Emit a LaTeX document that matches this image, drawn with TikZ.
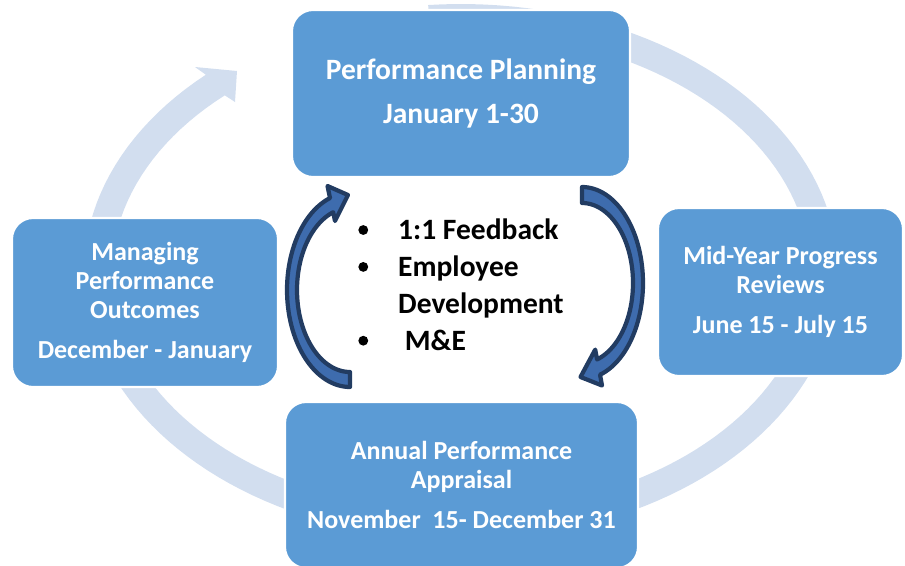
\documentclass[tikz,border=0pt]{standalone}
\usepackage{fontspec}
\setmainfont{Carlito}
\definecolor{boxblue}{RGB}{91,155,213}
\definecolor{ringblue}{RGB}{210,222,239}
\definecolor{arrownavy}{RGB}{34,60,98}
\definecolor{arrowfill}{RGB}{62,108,174}
% small filled dot used as list bullet
\newcommand\listdot{\raisebox{2.6pt}{\tikz\fill[black] (0,0) circle[radius=2.8pt];}}
\begin{document}
\begin{tikzpicture}[x=0.02cm, y=-0.02cm,
  stage/.style={rectangle, rounded corners=12pt, fill=boxblue, draw=white,
    line width=1.2pt, text=white, align=center, inner sep=0pt},
  bigtext/.style={font=\fontsize{16.8}{20}\selectfont\bfseries},
  smalltext/.style={font=\fontsize{14.8}{16.4}\selectfont\bfseries},
  cyclearrow/.style={fill=arrowfill, draw=arrownavy, line width=2.4pt, line join=round}]
\useasboundingbox (0,0) rectangle (905,565);
\clip (0,0) rectangle (905,565);

% large pale ring arrow running clockwise behind the stages
\fill[ringblue]
  plot[domain=-95:227.4, samples=150] ({461+377*cos(\x)},{272+268*sin(\x)})
  -- (195,67) -- (237,71) -- (235,102)
  -- plot[domain=227.4:-95, samples=150] ({461+349*cos(\x)},{272+240*sin(\x)})
  -- cycle;

% the four stages
\node[stage, bigtext, minimum width=338*0.02cm, minimum height=167*0.02cm]
  (plan) at (461,93.5) {Performance Planning\\[5.5pt]January 1-30};
\node[stage, smalltext, minimum width=245*0.02cm, minimum height=168*0.02cm]
  (midyear) at (780.5,292) {Mid-Year Progress\\Reviews\\[6.8pt]June 15 - July 15};
\node[stage, smalltext, minimum width=353*0.02cm, minimum height=166*0.02cm]
  (appraisal) at (461.5,485) {Annual Performance\\Appraisal\\[6.8pt]November\ \ 15- December 31};
\node[stage, smalltext, minimum width=266*0.02cm, minimum height=169*0.02cm]
  (manage) at (145,302.5) {Managing\\Performance\\Outcomes\\[6.8pt]December - January};

% inner curved arrows around the ongoing activities
\path[cyclearrow]
  plot[domain=90:251.5, samples=60] ({350+63*cos(\x)},{290+97*sin(\x)})
  -- (327.5,186) -- (348,195) -- (335,221)
  -- plot[domain=251.5:90, samples=60] ({350+53*cos(\x)},{290+82*sin(\x)})
  -- cycle;
\path[cyclearrow]
  plot[domain=-90:72.8, samples=60] ({582+61*cos(\x)},{283+96*sin(\x)})
  -- (602,385.5) -- (580.5,377) -- (595.2,349.6)
  -- plot[domain=72.8:-90, samples=60] ({582+51*cos(\x)},{283+80*sin(\x)})
  -- cycle;

% ongoing activities
\node[anchor=base west, inner sep=0pt, font=\fontsize{16.8}{21}\selectfont\bfseries]
  (tasks) at (358,239.5) {%
  \begin{tabular}[t]{@{}l@{}l@{}}
    \makebox[22.7pt][l]{\listdot} & 1:1 Feedback\\
    \makebox[22.7pt][l]{\listdot} & Employee\\
                                   & Development\\
    \makebox[22.7pt][l]{\listdot} & \ M\&E
  \end{tabular}};
\end{tikzpicture}
\end{document}
